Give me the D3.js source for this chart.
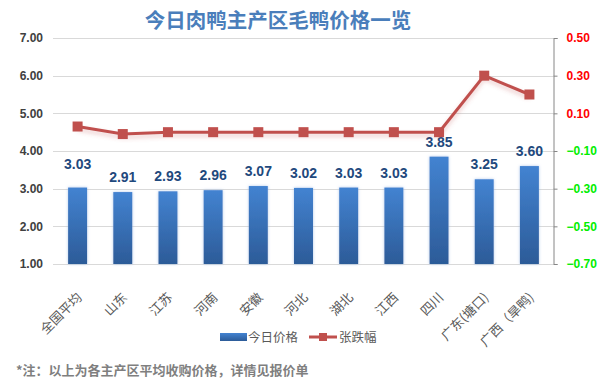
<!DOCTYPE html>
<html>
<head>
<meta charset="utf-8">
<script src="https://cdn.jsdelivr.net/npm/d3@7"></script>
<style>
    body { margin: 0; background: #fff; }
    svg text { font-family: "Liberation Sans", Arial, "Noto Sans CJK SC", sans-serif; }
    .cjk { font-family: "Noto Sans CJK SC", "Liberation Sans", sans-serif; }
</style>
</head>
<body>
<svg id="chart" width="599" height="389"></svg>
<script>
// data
var categories = ['全国平均', '山东', '江苏', '河南', '安徽', '河北', '湖北', '江西', '四川', '广东(塘口)', '广西（旱鸭)'];
var prices = [3.03, 2.91, 2.93, 2.96, 3.07, 3.02, 3.03, 3.03, 3.85, 3.25, 3.60];
var changes = [0.03, -0.01, 0, 0, 0, 0, 0, 0, 0, 0.30, 0.20];
var leftTicks = [1, 2, 3, 4, 5, 6, 7];
var rightTicks = [-0.7, -0.5, -0.3, -0.1, 0.1, 0.3, 0.5];

var svg = d3.select('#chart');
var plot = { left: 53, right: 553, top: 38, bottom: 264 };

var x = d3.scaleBand().domain(categories).range([plot.left + 2, plot.right - 1]).paddingInner(0.58).paddingOuter(0.29);
var yL = d3.scaleLinear().domain([1, 7]).range([plot.bottom, plot.top]);
var yR = d3.scaleLinear().domain([-0.7, 0.5]).range([plot.bottom, plot.top]);

var defs = svg.append('defs');
var grad = defs.append('linearGradient').attr('id', 'barGrad').attr('x1', 0).attr('y1', 0).attr('x2', 0).attr('y2', 1);
grad.append('stop').attr('offset', '0%').attr('stop-color', '#4383d1');
grad.append('stop').attr('offset', '100%').attr('stop-color', '#2c5b98');
var legGrad = defs.append('linearGradient').attr('id', 'legGrad').attr('x1', 0).attr('y1', 0).attr('x2', 0).attr('y2', 1);
legGrad.append('stop').attr('offset', '0%').attr('stop-color', '#4383d1');
legGrad.append('stop').attr('offset', '100%').attr('stop-color', '#2c5b98');

var glow = defs.append('filter').attr('id', 'glow').attr('x', '-30%').attr('y', '-10%').attr('width', '160%').attr('height', '120%');
glow.append('feDropShadow').attr('dx', 0).attr('dy', 0).attr('stdDeviation', 1.5).attr('flood-color', '#9dbbe6').attr('flood-opacity', 0.8);
var lineShadow = defs.append('filter').attr('id', 'lineShadow').attr('x', '-10%').attr('y', '-30%').attr('width', '120%').attr('height', '160%');
lineShadow.append('feDropShadow').attr('dx', 0).attr('dy', 3).attr('stdDeviation', 2).attr('flood-color', '#c0504d').attr('flood-opacity', 0.3);

// title
svg.append('text')
    .attr('class', 'cjk')
    .attr('x', 278)
    .attr('y', 28)
    .attr('text-anchor', 'middle')
    .attr('font-size', 20.5)
    .attr('font-weight', 'bold')
    .attr('fill', '#4a7ebb')
    .text('今日肉鸭主产区毛鸭价格一览');

// gridlines
svg.append('g')
    .selectAll('line')
    .data(leftTicks)
    .join('line')
    .attr('x1', plot.left)
    .attr('x2', plot.right)
    .attr('y1', d => Math.round(yL(d)) + 0.5)
    .attr('y2', d => Math.round(yL(d)) + 0.5)
    .attr('stroke', '#d9d9d9')
    .attr('stroke-width', 1);

// left axis
var leftAxis = svg.append('g')
    .attr('transform', 'translate(' + plot.left + ',0)')
    .call(d3.axisLeft(yL).tickValues(leftTicks).tickFormat(d3.format('.2f')).tickSize(0).tickPadding(10));
leftAxis.select('.domain').remove();
leftAxis.selectAll('text')
    .attr('font-size', 12)
    .attr('font-weight', 'bold')
    .attr('fill', '#404040')
    .attr('font-family', '"Liberation Sans", Arial, sans-serif');

// right axis
var rightAxis = svg.append('g')
    .attr('transform', 'translate(' + (plot.right + 0.5) + ',0)')
    .call(d3.axisRight(yR).tickValues(rightTicks).tickFormat(d3.format('.2f')).tickSizeInner(4).tickSizeOuter(4).tickPadding(9));
rightAxis.select('.domain').attr('stroke', '#868686');
rightAxis.selectAll('line').attr('stroke', '#868686');
rightAxis.selectAll('text')
    .attr('font-size', 12)
    .attr('font-weight', 'bold')
    .attr('font-family', '"Liberation Sans", Arial, sans-serif')
    .attr('fill', d => (d > 0 ? '#ff0000' : '#00ee00'));

// bars
svg.append('g')
    .selectAll('rect')
    .data(prices)
    .join('rect')
    .attr('x', (d, i) => x(categories[i]))
    .attr('width', x.bandwidth())
    .attr('y', d => yL(d))
    .attr('height', d => yL(1) - yL(d))
    .attr('fill', 'url(#barGrad)')
    .attr('filter', 'url(#glow)');

// bar labels
svg.append('g')
    .selectAll('text')
    .data(prices)
    .join('text')
    .attr('x', (d, i) => x(categories[i]) + x.bandwidth() / 2)
    .attr('y', (d, i) => yL(d) - (i === 0 ? 19 : 10))
    .attr('text-anchor', 'middle')
    .attr('font-size', 14)
    .attr('font-weight', 'bold')
    .attr('fill', '#1f497d')
    .text(d => d.toFixed(2));

// change line
var line = d3.line()
    .x((d, i) => x(categories[i]) + x.bandwidth() / 2)
    .y(d => yR(d));
svg.append('path')
    .datum(changes)
    .attr('d', line)
    .attr('fill', 'none')
    .attr('stroke', '#c0504d')
    .attr('stroke-width', 3)
    .attr('filter', 'url(#lineShadow)');
svg.append('g')
    .selectAll('rect')
    .data(changes)
    .join('rect')
    .attr('x', (d, i) => x(categories[i]) + x.bandwidth() / 2 - 5)
    .attr('y', d => yR(d) - 5)
    .attr('width', 10)
    .attr('height', 10)
    .attr('fill', '#c0504d');

// category labels
svg.append('g')
    .selectAll('text')
    .data(categories)
    .join('text')
    .attr('class', 'cjk')
    .attr('transform', d => 'translate(' + (x(d) + x.bandwidth() / 2 + 2) + ',295) rotate(-45)')
    .attr('text-anchor', 'end')
    .attr('dy', '0.35em')
    .attr('font-size', 13)
    .attr('fill', '#595959')
    .text(d => d);

// legend
var legend = svg.append('g');
legend.append('rect').attr('x', 220).attr('y', 333).attr('width', 27).attr('height', 8).attr('fill', 'url(#legGrad)');
legend.append('text').attr('class', 'cjk').attr('x', 248).attr('y', 342).attr('font-size', 12.5).attr('fill', '#595959').text('今日价格');
legend.append('line').attr('x1', 309).attr('x2', 337).attr('y1', 337).attr('y2', 337).attr('stroke', '#c0504d').attr('stroke-width', 3);
legend.append('rect').attr('x', 319).attr('y', 333).attr('width', 8).attr('height', 8).attr('fill', '#c0504d');
legend.append('text').attr('class', 'cjk').attr('x', 339).attr('y', 342).attr('font-size', 12.5).attr('fill', '#595959').text('张跌幅');

// footnote
svg.append('text')
    .attr('class', 'cjk')
    .attr('x', 16)
    .attr('y', 375)
    .attr('font-size', 13)
    .attr('font-weight', 'bold')
    .attr('fill', '#7f7f7f')
    .text('*注：以上为各主产区平均收购价格，详情见报价单');
</script>
</body>
</html>
